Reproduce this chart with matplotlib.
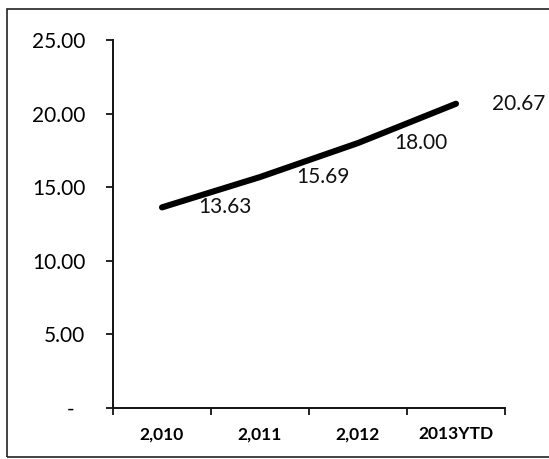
import matplotlib
matplotlib.use("Agg")
import matplotlib.pyplot as plt
from matplotlib.ticker import FixedLocator, FuncFormatter, NullFormatter
from matplotlib.patches import Rectangle

# Annual values
categories = ["2,010", "2,011", "2,012", "2013YTD"]
values = [13.63, 15.69, 18.00, 20.67]
y_ticks = [0, 5, 10, 15, 20, 25]

plt.rcParams["font.family"] = ["Lato", "DejaVu Sans"]

fig = plt.figure(figsize=(5.49, 4.59), dpi=100)
fig.patch.set_facecolor("white")

# Outer chart frame
fig.patches.append(Rectangle((7 / 549, 2 / 459), 1.05, (448) / 459,
                             transform=fig.transFigure, fill=False,
                             edgecolor="#222222", linewidth=1.2))

ax = fig.add_axes([113 / 549, 51 / 459, 392 / 549, 368 / 459])
x = list(range(len(categories)))
ax.plot(x, values, color="black", linewidth=4.4, solid_capstyle="round",
        solid_joinstyle="round")

for xi, v in zip(x, values):
    ax.annotate(f"{v:.2f}", (xi, v), xytext=(26, 0), textcoords="offset points",
                ha="left", va="center", fontsize=15, color="#111111")

ax.set_xlim(-0.5, len(categories) - 0.5)
ax.set_ylim(0, 25)

# Category axis: ticks between categories, labels centred on each category
ax.xaxis.set_major_locator(FixedLocator([i - 0.5 for i in range(len(categories) + 1)]))
ax.xaxis.set_major_formatter(NullFormatter())
ax.xaxis.set_minor_locator(FixedLocator(x))
ax.set_xticklabels(categories, minor=True, fontsize=12.5, fontweight="bold")
ax.tick_params(axis="x", which="minor", length=0, pad=13)
ax.tick_params(axis="x", which="major", direction="out", length=5, width=1.2)

ax.set_yticks(y_ticks)
ax.yaxis.set_major_formatter(FuncFormatter(lambda v, p: "-  " if v == 0 else f"{v:.2f}"))
ax.tick_params(axis="y", direction="out", length=5, width=1.2, pad=15, labelsize=15)

for s in ["top", "right"]:
    ax.spines[s].set_visible(False)
for s in ["left", "bottom"]:
    ax.spines[s].set_linewidth(1.4)
    ax.spines[s].set_color("#111111")

fig.savefig("out.png", dpi=100, facecolor="white")
